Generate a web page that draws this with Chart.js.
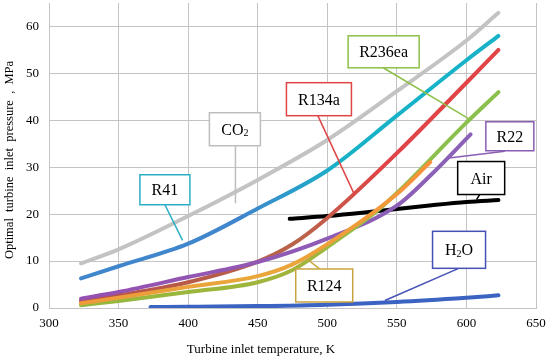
<!DOCTYPE html>
<html><head><meta charset="utf-8">
<script src="https://cdn.jsdelivr.net/npm/chart.js@4"></script>
<style>html,body{margin:0;padding:0;background:#fff}#wrap{width:550px;height:362px;position:relative}</style>
</head><body><div id="wrap"><canvas id="c" width="550" height="362"></canvas></div>
<script>
// ---- data ----
const xTickValues = [300, 350, 400, 450, 500, 550, 600, 650];
const yTickValues = [0, 10, 20, 30, 40, 50, 60];

const co2T   = [323, 350, 400, 450, 500, 550, 600, 623];
const co2P   = [9.5, 12.5, 19.6, 27.3, 35.8, 46.2, 57.0, 62.9];

const r41T   = [323, 350, 400, 450, 500, 550, 600, 623];
const r41P   = [6.3, 8.9, 13.7, 21.2, 29.3, 41.0, 52.8, 58.0];

const r134aT = [323, 350, 400, 450, 475, 500, 550, 600, 623];
const r134aP = [1.5, 2.7, 5.5, 9.9, 13.6, 19.2, 33.0, 48.0, 55.0];

const r236eaT = [323, 350, 400, 450, 475, 500, 535, 550, 600, 623];
const r236eaP = [0.6, 1.5, 3.4, 5.5, 8.1, 13.0, 20.5, 24.5, 39.5, 46.0];

const r22T   = [323, 350, 400, 450, 500, 550, 575, 603];
const r22P   = [2.0, 3.4, 6.6, 9.8, 14.8, 21.8, 28.5, 37.0];

const r124T  = [323, 350, 400, 450, 475, 500, 550, 574];
const r124P  = [1.0, 2.2, 4.5, 6.8, 9.3, 13.6, 24.3, 31.1];

const airT   = [473, 500, 525, 550, 575, 600, 623];
const airP   = [19.0, 19.6, 20.3, 21.1, 21.9, 22.6, 23.0];

const h2oT   = [373, 400, 450, 500, 550, 600, 623];
const h2oP   = [0.2, 0.25, 0.4, 0.7, 1.3, 2.2, 2.7];

const xTitle = 'Turbine inlet temperature, K';
const yTitle = 'Optimal  turbine  inlet  pressure  ,  MPa';

// ---- helpers ----
const pts = (T, P) => T.map((t, i) => ({x: t, y: P[i]}));

function gradColor(stops, fallback) {
  return function (ctx) {
    const chart = ctx.chart;
    const area = chart.chartArea;
    if (!area || !chart.scales.x) return fallback;
    const xs = chart.scales.x;
    const x0 = xs.getPixelForValue(stops[0][0]);
    const x1 = xs.getPixelForValue(stops[stops.length - 1][0]);
    const g = chart.ctx.createLinearGradient(x0, 0, x1, 0);
    stops.forEach(s => g.addColorStop((xs.getPixelForValue(s[0]) - x0) / (x1 - x0), s[1]));
    return g;
  };
}

function ds(label, T, P, color, width) {
  return {
    label, data: pts(T, P), borderColor: color, backgroundColor: 'transparent',
    borderWidth: width || 4, pointRadius: 0, pointHoverRadius: 0, fill: false,
    cubicInterpolationMode: 'monotone', borderCapStyle: 'round', borderJoinStyle: 'round'
  };
}

// callouts: box centre and leader in data units
const callouts = [
  {parts: [['CO'], ['2', 1]], color: '#BDBDBD', cx: 433.6, cy: 38.1, w: 51, h: 33, from: [434, 34.7], to: [434, 22.3]},
  {parts: [['R41']], color: '#2AAEC6', cx: 383.3, cy: 25.2, w: 50, h: 30, from: [383.3, 22.0], to: [396, 14.4]},
  {parts: [['R134a']], color: '#E04545', cx: 494, cy: 44.5, w: 65, h: 33, from: [493.2, 41.0], to: [519.8, 24.0]},
  {parts: [['R236ea']], color: '#8DC04A', cx: 540.5, cy: 54.6, w: 71, h: 32, from: [540.2, 51.2], to: [601.2, 40.4]},
  {parts: [['R22']], color: '#8B5DB5', cx: 631.2, cy: 36.6, w: 48, h: 29, from: [627.6, 33.4], to: [585.9, 31.9]},
  {parts: [['Air']], color: '#000000', cx: 610.6, cy: 27.7, w: 47, h: 33, from: [609.6, 24.2], to: [607.3, 23.1]},
  {parts: [['H'], ['2', 1], ['O']], color: '#4552B5', cx: 594.7, cy: 12.4, w: 53, h: 37, from: [594.0, 8.4], to: [541.4, 1.6]},
  {parts: [['R124']], color: '#C9A43E', cx: 497.8, cy: 4.8, w: 57, h: 33, from: [494.7, 8.3], to: [485.1, 10.5]}
];

const serif = '"Liberation Serif", "Times New Roman", serif';

const calloutPlugin = {
  id: 'callouts',
  afterDatasetsDraw(chart) {
    const c = chart.ctx, xs = chart.scales.x, ys = chart.scales.y;
    c.save();
    callouts.forEach(o => {
      c.beginPath();
      c.strokeStyle = o.color; c.lineWidth = 1.5;
      c.moveTo(xs.getPixelForValue(o.from[0]), ys.getPixelForValue(o.from[1]));
      c.lineTo(xs.getPixelForValue(o.to[0]), ys.getPixelForValue(o.to[1]));
      c.stroke();
    });
    callouts.forEach(o => {
      const px = xs.getPixelForValue(o.cx), py = ys.getPixelForValue(o.cy);
      c.fillStyle = '#fff';
      c.fillRect(px - o.w / 2, py - o.h / 2, o.w, o.h);
      c.strokeStyle = o.color; c.lineWidth = 1.5;
      c.strokeRect(px - o.w / 2, py - o.h / 2, o.w, o.h);
      const big = '16px ' + serif;
      const small = '10px ' + serif;
      let total = 0;
      o.parts.forEach(p => { c.font = p[1] ? small : big; total += c.measureText(p[0]).width; });
      let x = px - total / 2;
      c.fillStyle = '#000'; c.textBaseline = 'alphabetic'; c.textAlign = 'left';
      o.parts.forEach(p => {
        c.font = p[1] ? small : big;
        c.fillText(p[0], x, py + 5.5 + (p[1] ? 1.5 : 0));
        x += c.measureText(p[0]).width;
      });
    });
    c.restore();
  }
};

// axis titles drawn as canvas text (placed as in the reference)
const titlePlugin = {
  id: 'axisTitles',
  afterDraw(chart) {
    const c = chart.ctx;
    c.save();
    c.fillStyle = '#000';
    c.textAlign = 'center'; c.textBaseline = 'middle';
    c.font = '13px ' + serif;
    c.fillText(xTitle, 261, 350);
    c.translate(10, 160);
    c.rotate(-Math.PI / 2);
    c.font = '12.5px ' + serif;
    c.fillText(yTitle, 0, 0);
    c.restore();
  }
};

const bgPlugin = {
  id: 'bg',
  beforeDraw(chart) { const c = chart.ctx; c.save(); c.fillStyle = '#fff'; c.fillRect(0, 0, chart.width, chart.height); c.restore(); }
};

new Chart(document.getElementById('c'), {
  type: 'line',
  data: {
    datasets: [
      ds('H2O', h2oT, h2oP, '#3B63C2'),
      ds('R124', r124T, r124P, gradColor([[323, '#EE9A3A'], [450, '#E8A83A'], [574, '#F7923A']], '#F79646')),
      ds('R236ea', r236eaT, r236eaP, gradColor([[323, '#93B83E'], [480, '#A2B43A'], [540, '#8CC04C'], [623, '#8CC04C']], '#8DC04A')),
      ds('R22', r22T, r22P, gradColor([[323, '#9650B0'], [603, '#8A62B8']], '#8B5DB5')),
      ds('R134a', r134aT, r134aP, gradColor([[323, '#B8504A'], [480, '#B8644A'], [540, '#E04446'], [623, '#E04446']], '#E04446')),
      ds('Air', airT, airP, '#000000'),
      ds('R41', r41T, r41P, gradColor([[323, '#3F86CC'], [440, '#3F86CC'], [510, '#18B2C8'], [623, '#18B2C8']], '#18B2C8')),
      ds('CO2', co2T, co2P, '#C3C3C3')
    ]
  },
  options: {
    responsive: false,
    animation: false,
    events: [],
    layout: {padding: {top: 3, right: 14, left: 0, bottom: 0}},
    plugins: {legend: {display: false}, tooltip: {enabled: false}},
    scales: {
      x: {
        type: 'linear', min: 300, max: 650,
        afterBuildTicks: s => { s.ticks = xTickValues.map(v => ({value: v})); },
        afterFit: s => { s.height = 54; s.paddingLeft = 0; s.paddingRight = 0; s.paddingTop = 0; s.paddingBottom = 0; },
        grid: {color: '#C4C4C4', lineWidth: 1, drawTicks: false},
        border: {color: '#C4C4C4', width: 1},
        ticks: {padding: 8, color: '#000', font: {family: serif, size: 13}},
        title: {display: false, text: xTitle}
      },
      y: {
        type: 'linear', min: 0, max: 65,
        afterBuildTicks: s => { s.ticks = yTickValues.map(v => ({value: v})); },
        afterFit: s => { s.width = 49; s.paddingLeft = 0; s.paddingRight = 0; s.paddingTop = 0; s.paddingBottom = 0; },
        grid: {color: '#C4C4C4', lineWidth: 1, drawTicks: false},
        border: {color: '#C4C4C4', width: 1},
        ticks: {padding: 10, color: '#000', font: {family: serif, size: 13}},
        title: {display: false, text: yTitle}
      }
    }
  },
  plugins: [bgPlugin, calloutPlugin, titlePlugin]
});
</script>
</body></html>
